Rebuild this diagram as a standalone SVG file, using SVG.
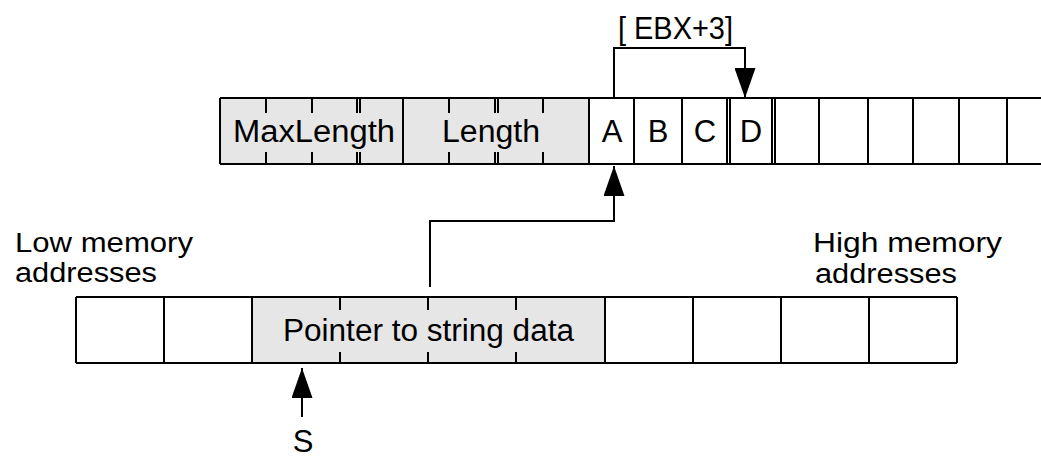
<svg xmlns="http://www.w3.org/2000/svg" width="1041" height="458" viewBox="0 0 1041 458">
<style>
text{font-family:"Liberation Sans",Arial,Helvetica,sans-serif;font-size:31px;fill:#000}
.c{text-anchor:middle}
.o{font-size:27px}
.ln{stroke:#000;stroke-width:2;fill:none}
.sh{fill:#e6e6e6}
.wh{fill:#fff}
.con{stroke:#000;stroke-width:2;fill:none}
</style>
<defs>
<marker id="ah" markerUnits="userSpaceOnUse" viewBox="0 0 30 21" refX="30" refY="10.5" markerWidth="30" markerHeight="21" orient="auto">
<path d="M0,0 L30,10.5 L0,21 Z" fill="#000"/>
</marker>
</defs>
<rect width="1041" height="458" fill="#fff"/>

<g id="labels">
<text class="o" x="15" y="252" textLength="178" lengthAdjust="spacingAndGlyphs">Low memory</text>
<text class="o" x="15" y="282" textLength="142" lengthAdjust="spacingAndGlyphs">addresses</text>
<text class="o" x="813" y="252" textLength="189" lengthAdjust="spacingAndGlyphs">High memory</text>
<text class="o" x="815" y="283" textLength="142" lengthAdjust="spacingAndGlyphs">addresses</text>
</g>

<g id="string-row">
<rect class="sh" x="220" y="98" width="369" height="66"/>
<rect class="wh" x="589" y="98" width="460" height="66"/>
<path class="ln" d="M220,98 H1041 M220,164 H1041 M220,98 V164 M403,98 V164 M589,98 V164 M682,98 V164 M819,98 V164 M913,98 V164 M959,98 V164"/>
<path class="ln" stroke-width="3" d="M634,98 V164 M868,98 V164 M1007,98 V164"/>
<path class="ln" d="M727,98 V164 M730,98 V164 M772,98 V164 M775,98 V164"/>
<path class="ln" d="M266,98 V113 M266,152 V164 M312,98 V113 M312,152 V164 M357,98 V113 M357,152 V164 M360,98 V113 M360,152 V164 M449,98 V113 M449,152 V164 M495,98 V113 M495,152 V164 M498,98 V113 M498,152 V164 M543,98 V113 M543,152 V164"/>
</g>
<g id="maxlength"><text x="233" y="142" textLength="162" lengthAdjust="spacingAndGlyphs">MaxLength</text></g>
<g id="length"><text x="442" y="142" textLength="98" lengthAdjust="spacingAndGlyphs">Length</text></g>
<g id="char-a"><text class="c" x="612" y="142">A</text></g>
<g id="char-b"><text class="c" x="658" y="142">B</text></g>
<g id="char-c"><text class="c" x="705" y="142">C</text></g>
<g id="char-d"><text class="c" x="751" y="142">D</text></g>
<g id="offset-label"><text x="618" y="39" textLength="115" lengthAdjust="spacingAndGlyphs">[ EBX+3]</text></g>

<g id="variable-row">
<rect class="wh" x="76" y="297" width="176" height="66"/>
<rect class="sh" x="252" y="297" width="353" height="66"/>
<rect class="wh" x="605" y="297" width="352" height="66"/>
<path class="ln" d="M76,297 H957 M76,363 H957 M76,297 V363 M164,297 V363 M252,297 V363 M605,297 V363 M693,297 V363 M781,297 V363 M869,297 V363 M957,297 V363"/>
<path class="ln" d="M340,297 V310 M340,352 V363 M428,297 V310 M428,352 V363 M516,297 V310 M516,352 V363"/>
</g>
<g id="pointer"><text x="283" y="341" textLength="291" lengthAdjust="spacingAndGlyphs">Pointer to string data</text></g>
<g id="s-label"><text class="c" x="303" y="452" font-size="28">S</text></g>

<g id="connectors">
<path class="con" d="M614,98 V48 H745 V98" marker-end="url(#ah)"/>
<path class="con" d="M430,287 V221 H614 V166" marker-end="url(#ah)"/>
<path class="con" d="M302,417 V368" marker-end="url(#ah)"/>
</g>
</svg>
